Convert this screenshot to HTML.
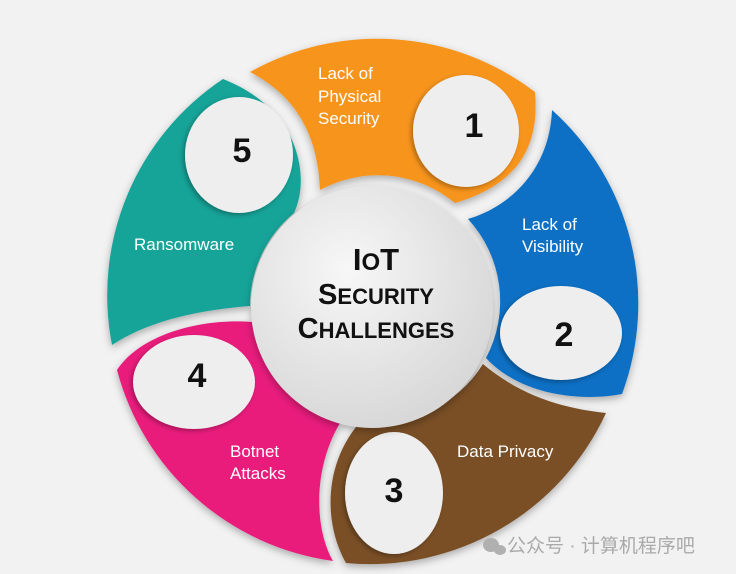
<!DOCTYPE html>
<html><head><meta charset="utf-8"><style>
html,body{margin:0;padding:0;background:#f2f2f2;}
svg{display:block}
</style></head><body>
<svg width="736" height="574" viewBox="0 0 736 574" xmlns="http://www.w3.org/2000/svg">
<defs>
<filter id="sh" x="-20%" y="-20%" width="140%" height="140%"><feDropShadow dx="0" dy="3" stdDeviation="4" flood-color="#000" flood-opacity="0.3"/></filter>
<filter id="ish" x="-20%" y="-20%" width="140%" height="140%"><feDropShadow dx="-2" dy="2" stdDeviation="2.5" flood-color="#000" flood-opacity="0.3"/></filter>
<radialGradient id="cg" cx="40%" cy="35%" r="70%"><stop offset="0" stop-color="#f7f7f7"/><stop offset="1" stop-color="#d6d6d6"/></radialGradient>
</defs>
<rect width="736" height="574" fill="#f2f2f2"/>
<g filter="url(#sh)">
<path d="M250,72 A260,260 0 0 1 535,92 C540,150 515,185 455,203 A121,121 0 0 0 320,190 C318,140 300,98 250,72 Z" fill="#f7941d"/>
<path d="M552,110 A260,260 0 0 1 622,394 C580,402 520,395 486,358 A121,121 0 0 0 468,219 C515,205 550,165 552,110 Z" fill="#0e6fc4"/>
<path d="M606,413 A260,260 0 0 1 346,563 C322,520 325,460 362,420 A121,121 0 0 0 483,364 C520,395 560,408 606,413 Z" fill="#7a4f25"/>
<path d="M117,370 A260,260 0 0 0 333,561 C315,530 312,470 340,423 A121,121 0 0 1 252,322 C200,318 140,335 117,370 Z" fill="#e91e7c"/>
<path d="M223,79 A260,260 0 0 0 112,345 C150,320 200,310 250,306 A121,121 0 0 1 294,213 C310,180 302,110 223,79 Z" fill="#17a398"/>
</g>
<g filter="url(#ish)" fill="#eeeeee">
<ellipse cx="466" cy="131" rx="53" ry="56"/>
<ellipse cx="239" cy="155" rx="54" ry="58"/>
<ellipse cx="561" cy="333" rx="61" ry="47"/>
<ellipse cx="194" cy="382" rx="61" ry="47"/>
<ellipse cx="394" cy="493" rx="49" ry="61"/>
</g>
<circle cx="372" cy="307" r="121" fill="url(#cg)" filter="url(#sh)"/>
<g font-family="Liberation Sans, sans-serif" font-weight="bold" fill="#111" text-anchor="middle">
<text x="376" y="270" font-size="31">I<tspan font-size="24">O</tspan>T</text>
<text x="376" y="304" font-size="29">S<tspan font-size="22">ECURITY</tspan></text>
<text x="376" y="338" font-size="29">C<tspan font-size="22">HALLENGES</tspan></text>
<g font-size="34">
<text x="474" y="137">1</text>
<text x="242" y="162">5</text>
<text x="564" y="346">2</text>
<text x="197" y="387">4</text>
<text x="394" y="502">3</text>
</g>
</g>
<g font-family="Liberation Sans, sans-serif" font-size="17" fill="#fff">
<text x="318" y="79">Lack of</text>
<text x="318" y="102">Physical</text>
<text x="318" y="124">Security</text>
<text x="522" y="230">Lack of</text>
<text x="522" y="252">Visibility</text>
<text x="134" y="250">Ransomware</text>
<text x="457" y="457">Data Privacy</text>
<text x="230" y="457">Botnet</text>
<text x="230" y="479">Attacks</text>
</g>
<g fill="#b0b0b0">
<ellipse cx="491" cy="545" rx="8" ry="7"/>
<ellipse cx="500" cy="550" rx="6" ry="5"/>
</g>
<text x="507" y="552" font-family="Liberation Sans, 'Noto Sans CJK SC', sans-serif" font-size="19" fill="#aaaaaa">公众号 · 计算机程序吧</text>
</svg>
</body></html>
